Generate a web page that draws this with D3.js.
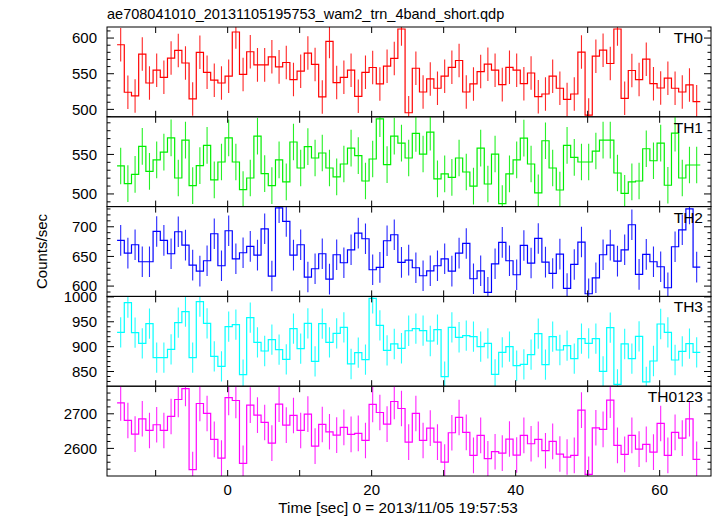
<!DOCTYPE html>
<html>
<head>
<meta charset="utf-8">
<script src="https://cdn.jsdelivr.net/npm/d3@7"></script>
<style>
  html, body { margin: 0; padding: 0; background: #fff; }
  svg { display: block; }
  text { font-family: "Liberation Sans", Arial, Helvetica, sans-serif; fill: #000; }
</style>
</head>
<body>
<svg id="chart" width="717" height="516"></svg>
<script>
// ---- data ----
const title = "ae708041010_20131105195753_wam2_trn_4band_short.qdp";
const xLabel = "Time [sec] 0 = 2013/11/05 19:57:53";
const yLabel = "Counts/sec";
const bandNames = ["TH0", "TH1", "TH2", "TH3", "TH0123"];
const bandColors = ["#ff0000", "#00ee00", "#0000ff", "#00ffff", "#ff00ff"];
const binIndex = [-15,-14,-13,-12,-11,-10,-9,-8,-7,-6,-5,-4,-3,-2,-1,0,1,2,3,4,5,6,7,8,9,10,11,12,13,14,15,16,17,18,19,20,21,22,23,24,25,26,27,28,29,30,31,32,33,34,35,36,37,38,39,40,41,42,43,44,45,46,47,48,49,50,51,52,53,54,55,56,57,58,59,60,61,62,63,64,65];
const binOffset = 0.14;   // bin centre = index + offset (sec)
const binWidth = 1.0;     // sec
const xTicks = [-10, 0, 10, 20, 30, 40, 50, 60];
const xTickLabels = [0, 20, 40, 60];

const th0 = [590.6,524,518.8,577.5,537,555,545,572,582.6,565,514.6,580,552,541,537,546.5,608.5,549,580.8,562.4,562.4,573.7,559.6,565.7,541.8,553.5,578.9,563,517.4,595.3,537.6,545,555,518.3,552,558.7,535.7,560.6,571.4,612.7,495.3,557.7,524.4,542.7,529.6,546.5,559,568.5,524.4,535.7,553,563.4,555,534.7,559,555,536,551,517.8,521.6,546.5,529.6,514,521.6,580.3,492,574.6,583,564.3,612.7,515.5,554.5,541.8,570.4,536,530,543.7,529.6,524.4,534.3,510.8];
const th1 = [535.4,513,524.8,560.2,528.6,543,553,571,520.2,568.2,510.5,535.8,561.4,517.7,540.4,571,540.4,505.5,520.2,573.2,525.7,510.5,543,515.2,565.7,532.8,559.8,545.5,551.8,532.8,521.5,537.9,558,548.4,516.4,544.2,595.1,537,573.2,564.4,545.5,576.6,550.5,578.3,519,525.3,521,545.5,527.8,510,558,512.6,550.5,487.8,525.3,543,570.7,537.9,501.3,567.3,532.8,505,561.4,546.3,540.4,540.4,554.3,568.2,568.2,526.5,500.8,515.2,516.4,557.2,542,564.4,511,577,520.2,536.6,536.6];
const th2 = [677,655.6,669.7,641,641,692.1,677,654.5,691.6,669.1,635.4,625.3,642.7,688.2,634.3,693.3,646,656.2,666.9,652.2,696.6,616.9,732,709,652.2,669.7,615.2,629.2,654.5,611.8,652.8,639.3,661.2,689.3,679.8,627.5,631.5,676.4,686.5,639.9,643.8,630.9,617.4,625.8,634.3,646,625.3,655.6,671.9,612.4,625.8,589.3,637.6,673.6,642.7,619.1,668.5,638.8,680.3,640.4,621.3,653.9,596,636.5,674.2,587.1,614,652.8,669.1,642.1,661.2,703.4,619.7,653.4,641,632.6,597.2,666.3,694.9,730,632];
const th3 = [928.8,988.4,928.1,906.7,946.2,877.9,877.9,894.6,948.2,970.3,877.9,990.4,946.9,880.6,860.5,940.2,944.2,843.7,958.3,908.7,891.3,914.1,894,874.5,936.2,896,946.9,870.5,946.2,908.7,926.8,938.8,865.2,887.9,873.9,997.1,942.9,892.6,905.4,896.7,932,936.2,932.1,911.4,934.2,839.7,938.8,918.8,922.1,920.1,900,906.7,844.4,888.6,900,861.8,864.5,883.9,926.1,863.8,920.1,893.3,902,875.9,916.1,906.7,916.1,850.4,938.2,824.3,905.4,875.9,920.8,829,871.2,945.5,928.8,873.2,890.6,906,888.6];
const th0123 = [2731.7,2680.8,2641.3,2685.6,2651.9,2668.3,2651.9,2692.3,2741.3,2773,2538.5,2729.8,2701,2626,2572,2747,2738.5,2556.7,2725,2696,2675,2615.4,2727.9,2667.3,2695.2,2651.9,2699,2606.7,2669.2,2648,2638.5,2660.6,2640.4,2643.3,2623,2727,2703.8,2670.2,2735.6,2715.4,2618.3,2701,2623,2658.7,2618.3,2560.6,2645.2,2689.4,2646.2,2579.8,2637.5,2570.2,2590.4,2586.5,2627,2580.8,2637.5,2613.5,2626,2593.3,2620.2,2583.7,2575,2579.8,2710.6,2525,2659.6,2654.8,2739.4,2608.7,2582.7,2637.5,2598,2611.5,2589.4,2672.1,2579.8,2646.2,2629.8,2685.6,2568.3];
const bandErrors = [23.5, 23.2, 25.8, 30.5, 51.5];   // typical 1-sigma half-length per band

const yDomains = [[489.6, 615.5], [484, 597.6], [582.6, 734], [820.5, 1001], [2520.2, 2779.8]];
const yMajorTicks = [[500, 550, 600], [500, 550], [600, 650, 700], [850, 900, 950, 1000], [2600, 2700]];
const yMinorStep = [10, 10, 10, 10, 20];
const series = [th0, th1, th2, th3, th0123];

// ---- layout ----
const svg = d3.select("#chart");
const plotLeft = 107, plotRight = 711, plotTop = 27, plotBottom = 476;
const nP = series.length;
const pH = (plotBottom - plotTop) / nP;

const x = d3.scaleLinear().domain([-16.76, 67.13]).range([plotLeft, plotRight]);

series.forEach((vals, p) => {
  const y0 = plotTop + p * pH, y1 = y0 + pH;
  const y = d3.scaleLinear().domain(yDomains[p]).range([y1, y0]);
  const g = svg.append("g");
  const clipId = "clip" + p;
  svg.append("clipPath").attr("id", clipId)
    .append("rect").attr("x", plotLeft).attr("y", y0).attr("width", plotRight - plotLeft).attr("height", pH);

  const data = binIndex.map((b, i) => ({ t: b + binOffset, v: vals[i] }));
  const color = bandColors[p];
  const plot = g.append("g").attr("clip-path", `url(#${clipId})`);

  // error bars
  plot.selectAll("line.err").data(data).enter().append("line")
    .attr("x1", d => x(d.t)).attr("x2", d => x(d.t))
    .attr("y1", d => y(d.v - bandErrors[p])).attr("y2", d => y(d.v + bandErrors[p]))
    .attr("stroke", color).attr("stroke-width", 1.1).attr("stroke-opacity", 0.85);

  // histogram steps
  const pts = [];
  data.forEach(d => { pts.push([d.t - binWidth / 2, d.v]); pts.push([d.t + binWidth / 2, d.v]); });
  const line = d3.line().x(d => x(d[0])).y(d => y(d[1]));
  plot.append("path").attr("d", line(pts)).attr("fill", "none")
    .attr("stroke", color).attr("stroke-width", 1.2);

  // frame
  g.append("rect").attr("x", plotLeft).attr("y", y0).attr("width", plotRight - plotLeft).attr("height", pH)
    .attr("fill", "none").attr("stroke", "#000").attr("stroke-width", 1);

  // x ticks (top and bottom, inward)
  xTicks.forEach(t => {
    g.append("line").attr("x1", x(t)).attr("x2", x(t)).attr("y1", y1).attr("y2", y1 - 6).attr("stroke", "#000");
    g.append("line").attr("x1", x(t)).attr("x2", x(t)).attr("y1", y0).attr("y2", y0 + 6).attr("stroke", "#000");
  });

  // y ticks
  const [dmin, dmax] = yDomains[p];
  const step = yMinorStep[p];
  const minor = d3.range(Math.ceil(dmin / step) * step, dmax, step);
  minor.forEach(v => {
    const isMajor = yMajorTicks[p].includes(Math.round(v));
    const len = isMajor ? 7 : 3.5;
    g.append("line").attr("x1", plotLeft).attr("x2", plotLeft + len).attr("y1", y(v)).attr("y2", y(v)).attr("stroke", "#000");
    g.append("line").attr("x1", plotRight).attr("x2", plotRight - len).attr("y1", y(v)).attr("y2", y(v)).attr("stroke", "#000");
  });
  yMajorTicks[p].forEach(v => {
    g.append("text").attr("x", 97).attr("y", y(v)).attr("dy", "0.36em")
      .attr("text-anchor", "end").attr("font-size", 15).text(v);
  });

  // band label
  g.append("text").attr("x", 703).attr("y", y0 + 16).attr("text-anchor", "end")
    .attr("font-size", 15.5).text(bandNames[p]);
});

// x tick labels
xTickLabels.forEach(t => {
  svg.append("text").attr("x", x(t)).attr("y", 495).attr("text-anchor", "middle")
    .attr("font-size", 15).text(t);
});

// titles
svg.append("text").attr("x", 107).attr("y", 19).attr("font-size", 14.5).text(title);
svg.append("text").attr("x", 398).attr("y", 513).attr("text-anchor", "middle").attr("font-size", 15.3).text(xLabel);
svg.append("text").attr("transform", `translate(47,${(plotTop + plotBottom) / 2}) rotate(-90)`)
  .attr("text-anchor", "middle").attr("font-size", 15).text(yLabel);
</script>
</body>
</html>
